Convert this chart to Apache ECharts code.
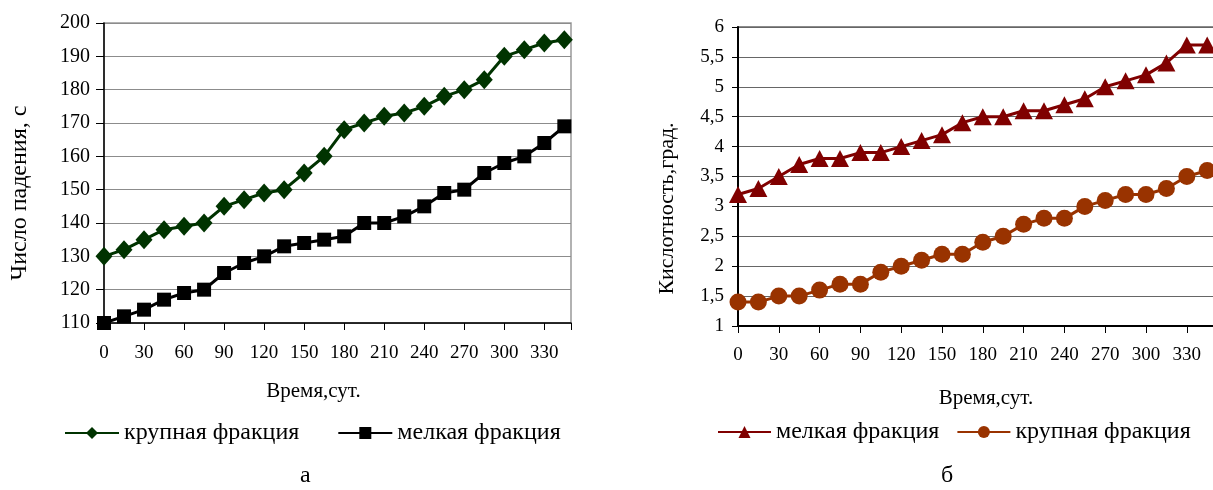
<!DOCTYPE html>
<html>
<head>
<meta charset="utf-8">
<script src="https://cdn.jsdelivr.net/npm/echarts/dist/echarts.min.js"></script>
<style>
  html, body { margin: 0; padding: 0; background: #fff; overflow: hidden; }
  #left { position: absolute; left: 0; top: 0; width: 620px; height: 490px; }
  #right { position: absolute; left: 620px; top: 0; width: 600px; height: 490px; }
</style>
</head>
<body>
<div id="left"></div>
<div id="right"></div>
<script>
// время, сут.
const days = [0, 15, 30, 45, 60, 75, 90, 105, 120, 135, 150, 165, 180, 195, 210, 225, 240, 255, 270, 285, 300, 315, 330, 345];

// а: число падения, с
const fallLarge = [130, 132, 135, 138, 139, 140, 145, 147, 149, 150, 155, 160, 168, 170, 172, 173, 175, 178, 180, 183, 190, 192, 194, 195];
const fallSmall = [110, 112, 114, 117, 119, 120, 125, 128, 130, 133, 134, 135, 136, 140, 140, 142, 145, 149, 150, 155, 158, 160, 164, 169];

// б: кислотность, град.
const acidSmall = [3.2, 3.3, 3.5, 3.7, 3.8, 3.8, 3.9, 3.9, 4.0, 4.1, 4.2, 4.4, 4.5, 4.5, 4.6, 4.6, 4.7, 4.8, 5.0, 5.1, 5.2, 5.4, 5.7, 5.7];
const acidLarge = [1.4, 1.4, 1.5, 1.5, 1.6, 1.7, 1.7, 1.9, 2.0, 2.1, 2.2, 2.2, 2.4, 2.5, 2.7, 2.8, 2.8, 3.0, 3.1, 3.2, 3.2, 3.3, 3.5, 3.6];

const FONT = '"Liberation Serif", serif';
const pairs = (ys) => days.map((d, i) => [d, ys[i]]);

const xAxisBase = (gap, labelMargin) => ({
  type: 'value',
  min: 0,
  max: 350,
  interval: 30,
  name: 'Время,сут.',
  nameLocation: 'middle',
  nameGap: gap,
  axisLine: { lineStyle: { color: '#000', width: 1.5 } },
  axisTick: { show: true, length: 7, lineStyle: { color: '#000' } },
  splitLine: { show: false },
  axisLabel: {
    margin: labelMargin,
    color: '#000',
    fontFamily: FONT,
    fontSize: 19,
    formatter: v => (v === 350 ? '' : v)
  }
});

const lineSeries = (name, ys, color, symbol, size) => ({
  name: name,
  type: 'line',
  data: pairs(ys),
  symbol: symbol,
  symbolSize: size,
  showAllSymbol: true,
  lineStyle: { color: color, width: 3 },
  itemStyle: { color: color },
  emphasis: { disabled: true },
  animation: false
});

// левый график (а)
const leftChart = echarts.init(document.getElementById('left'));
const xl = xAxisBase(58, 21);
xl.nameTextStyle = { color: '#000', fontFamily: FONT, fontSize: 21, padding: [0, 48, 0, 0] };
leftChart.setOption({
  animation: false,
  grid: { left: 104, right: 49, top: 23, bottom: 167, show: true, borderColor: '#999', borderWidth: 1.5 },
  xAxis: xl,
  yAxis: {
    type: 'value',
    min: 110,
    max: 200,
    interval: 10,
    name: 'Число падения, с',
    nameLocation: 'middle',
    nameGap: 72,
    nameTextStyle: { color: '#000', fontFamily: FONT, fontSize: 24, padding: [0, 40, 0, 0] },
    axisLine: { show: true, lineStyle: { color: '#000', width: 1.5 } },
    axisTick: { show: true, length: 8, lineStyle: { color: '#000' } },
    splitLine: { lineStyle: { color: '#8c8c8c', width: 1 } },
    axisLabel: { margin: 14, color: '#000', fontFamily: FONT, fontSize: 20 }
  },
  legend: {
    left: 64,
    top: 421,
    padding: 0,
    itemWidth: 54,
    itemHeight: 15,
    itemGap: 38,
    textStyle: { color: '#000', fontFamily: FONT, fontSize: 24 },
    data: ['крупная фракция', 'мелкая фракция']
  },
  graphic: [{
    type: 'text', left: 300, top: 464,
    style: { text: 'а', fill: '#000', font: '24px "Liberation Serif"' }
  }],
  series: [
    lineSeries('крупная фракция', fallLarge, '#003300', 'diamond', [17, 19]),
    lineSeries('мелкая фракция', fallSmall, '#000000', 'rect', 14)
  ]
});

// правый график (б)
const rightChart = echarts.init(document.getElementById('right'));
const xr = xAxisBase(62, 20);
xr.nameTextStyle = { color: '#000', fontFamily: FONT, fontSize: 21, padding: [0, 0, 0, 20] };
xr.axisLine.lineStyle.width = 2;
rightChart.setOption({
  animation: false,
  grid: { left: 118, right: 6, top: 27, bottom: 164, show: true, borderColor: '#666', borderWidth: 1.5 },
  xAxis: xr,
  yAxis: {
    type: 'value',
    min: 1,
    max: 6,
    interval: 0.5,
    name: 'Кислотность,град.',
    nameLocation: 'middle',
    nameGap: 60,
    nameTextStyle: { color: '#000', fontFamily: FONT, fontSize: 22, padding: [0, 64, 0, 0] },
    axisLine: { show: true, lineStyle: { color: '#000', width: 2 } },
    axisTick: { show: true, length: 6, lineStyle: { color: '#000' } },
    splitLine: { lineStyle: { color: '#666', width: 1.2 } },
    axisLabel: {
      margin: 14, color: '#000', fontFamily: FONT, fontSize: 19,
      formatter: v => String(v).replace('.', ',')
    }
  },
  legend: {
    left: 97,
    top: 420,
    padding: 0,
    itemWidth: 53,
    itemHeight: 15,
    itemGap: 17,
    textStyle: { color: '#000', fontFamily: FONT, fontSize: 24 },
    data: ['мелкая фракция', 'крупная фракция']
  },
  graphic: [{
    type: 'text', left: 321, top: 464,
    style: { text: 'б', fill: '#000', font: '24px "Liberation Serif"' }
  }],
  series: [
    lineSeries('мелкая фракция', acidSmall, '#800000', 'triangle', [18, 17]),
    lineSeries('крупная фракция', acidLarge, '#993300', 'circle', 17)
  ]
});
</script>
</body>
</html>
